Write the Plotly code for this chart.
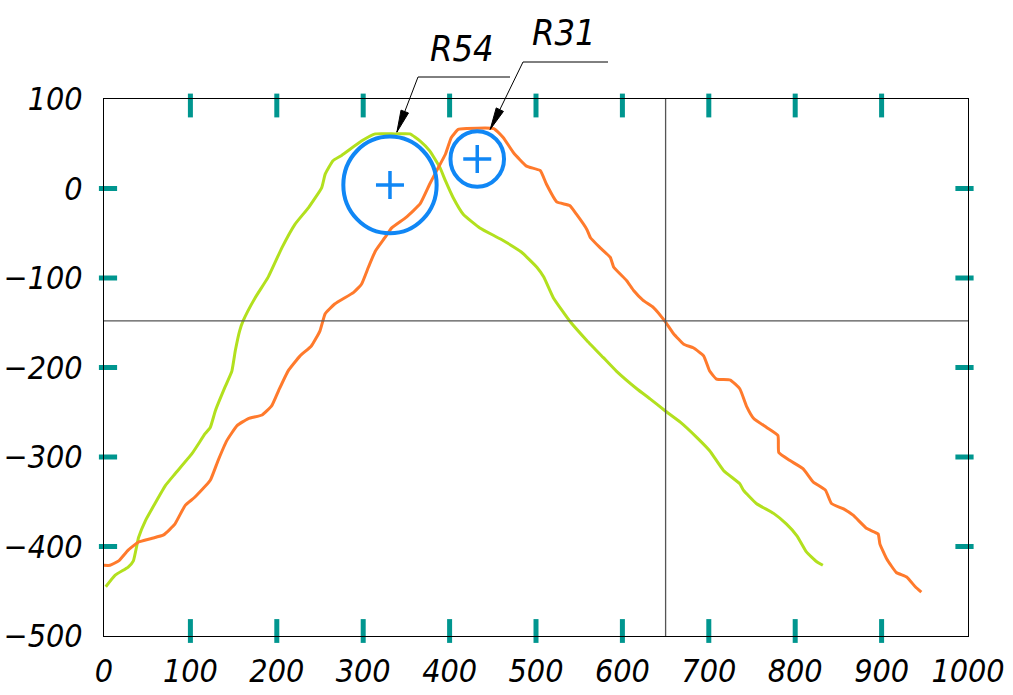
import math
import plotly.graph_objects as go

# Profile traces (x, y)
green_x = [2, 13, 28, 34, 40, 48, 59, 71, 82, 102, 117, 123, 129, 140, 148,
           152, 157, 161, 175, 190, 206, 221, 237, 252, 256, 265, 275, 298, 314, 337,
           354, 366, 377, 389, 395, 404, 416, 435, 460, 483, 501, 509, 520, 539, 559,
           578, 593, 617, 632, 649, 667, 686, 701, 717, 736, 740, 755, 775, 790, 802,
           813, 825, 832]
green_y = [-445, -432, -423, -416, -390, -371, -352, -332, -319, -296, -274, -267, -248, -222, -204,
           -181, -159, -148, -122, -99, -66, -40, -21, 1, 16, 31, 37, 53, 61, 61,
           61, 53, 42, 23, 9, -10, -29, -44, -57, -71, -88, -99, -122, -148, -170,
           -189, -204, -224, -235, -248, -261, -278, -293, -315, -330, -337, -352, -363, -375, -388,
           -406, -417, -421]

orange_x = [0, 7, 17, 28, 40, 55, 69, 82, 94, 105, 123, 132, 142, 154, 167,
            183, 194, 202, 213, 227, 240, 250, 256, 267, 289, 298, 306, 314, 325, 333,
            350, 366, 377, 385, 395, 402, 410, 420, 451, 462, 474, 489, 505, 512, 524,
            539, 547, 559, 563, 574, 586, 590, 605, 613, 624, 636, 649, 659, 671, 682,
            694, 701, 709, 725, 736, 744, 752, 767, 780, 781, 794, 809, 821, 835, 842,
            856, 867, 883, 896, 898, 906, 917, 929, 939, 946]
orange_y = [-421, -421, -416, -404, -395, -391, -387, -375, -354, -345, -326, -304, -282, -265, -257,
            -253, -243, -226, -204, -187, -176, -159, -140, -129, -116, -107, -88, -70, -55, -44,
            -32, -17, 5, 20, 38, 57, 66, 67, 67, 57, 40, 25, 20, 5, -15,
            -19, -29, -46, -55, -66, -77, -88, -103, -114, -125, -133, -148, -162, -174, -178,
            -187, -204, -213, -214, -224, -244, -257, -267, -276, -295, -304, -313, -328, -337, -352,
            -358, -365, -380, -386, -397, -414, -429, -434, -445, -451]

# Fitted arcs: centre x, centre y, radius
arc_labels = ["R54", "R31"]
arc_cx = [331, 432]
arc_cy = [4, 33]
arc_r = [54, 31]

# Axis ticks
x_ticks = [0, 100, 200, 300, 400, 500, 600, 700, 800, 900, 1000]
y_ticks = [100, 0, -100, -200, -300, -400, -500]
x_marks = [100, 200, 300, 400, 500, 600, 700, 800, 900]
y_marks = [0, -100, -200, -300, -400]

# Reference cross lines
cross_x = 650
cross_y = -148

X_RANGE = [0, 1000]
Y_RANGE = [-500, 100]
W, H = 1013, 695
ML, MR, MT, MB = 104, 45, 99, 59
pw = W - ML - MR
ph = H - MT - MB
ppx = pw / (X_RANGE[1] - X_RANGE[0])
ppy = ph / (Y_RANGE[1] - Y_RANGE[0])

GREEN = "#b2e01e"
ORANGE = "#ff7a2c"
BLUE = "#1087f5"
TEAL = "#00968f"
FONT = "Noto Sans ExtraCondensed, Noto Sans Condensed, DejaVu Sans Condensed, DejaVu Sans"


def data_to_px(x, y):
    return ML + (x - X_RANGE[0]) * ppx, MT + (Y_RANGE[1] - y) * ppy


def px_to_paper(px, py):
    return (px - ML) / pw, (H - MB - py) / ph


fig = go.Figure()

fig.add_trace(go.Scatter(x=green_x, y=green_y, mode="lines",
                         line=dict(color=GREEN, width=3, shape="spline", smoothing=0.4),
                         hoverinfo="skip"))
fig.add_trace(go.Scatter(x=orange_x, y=orange_y, mode="lines",
                         line=dict(color=ORANGE, width=3, shape="spline", smoothing=0.4),
                         hoverinfo="skip"))

# arcs with centre crosses
for cx, cy, r in zip(arc_cx, arc_cy, arc_r):
    fig.add_shape(type="circle", xref="x", yref="y",
                  x0=cx - r, x1=cx + r, y0=cy - r, y1=cy + r,
                  line=dict(color=BLUE, width=4), layer="above")
fig.add_trace(go.Scatter(x=arc_cx, y=arc_cy, mode="markers",
                         marker=dict(symbol="cross-thin", size=20,
                                     line=dict(color=BLUE, width=3.5)),
                         hoverinfo="skip", cliponaxis=False))

# teal tick dashes along the frame
top_y = Y_RANGE[1] - 6.5 / ppy
bot_y = Y_RANGE[0] + 5 / ppy
left_x = X_RANGE[0] + 4 / ppx
right_x = X_RANGE[1] - 3.5 / ppx
fig.add_trace(go.Scatter(x=x_marks + x_marks,
                         y=[top_y] * len(x_marks) + [bot_y] * len(x_marks),
                         mode="markers", cliponaxis=False, hoverinfo="skip",
                         marker=dict(symbol="line-ns", size=17,
                                     line=dict(color=TEAL, width=5))))
fig.add_trace(go.Scatter(x=[left_x] * len(y_marks) + [right_x] * len(y_marks),
                         y=y_marks + y_marks,
                         mode="markers", cliponaxis=False, hoverinfo="skip",
                         marker=dict(symbol="line-ew", size=13,
                                     line=dict(color=TEAL, width=5))))

# cross lines
fig.add_shape(type="line", xref="x", yref="paper", x0=cross_x, x1=cross_x, y0=0, y1=1,
              line=dict(color="#555555", width=1.3))
fig.add_shape(type="line", xref="paper", yref="y", x0=0, x1=1, y0=cross_y, y1=cross_y,
              line=dict(color="#555555", width=1.3))

# leader lines with labels for the arcs
leader = [
    # arrow tip (data), shelf start/end and height (px), label centre (px)
    dict(tip=(339, 63), shelf=(418, 510, 77), text=(462, 49)),
    dict(tip=(447, 66), shelf=(523, 608, 62), text=(564, 32)),
]
HEAD_LEN, HEAD_HALF = 22, 4
for lab, ld in zip(arc_labels, leader):
    tx_px, ty_px = data_to_px(*ld["tip"])
    s0, s1, sy = ld["shelf"]
    # shelf + leader line
    pts = [px_to_paper(s1, sy), px_to_paper(s0, sy), px_to_paper(tx_px, ty_px)]
    path = "M {} {} L {} {} L {} {}".format(*[v for p in pts for v in p])
    fig.add_shape(type="path", xref="paper", yref="paper", path=path,
                  line=dict(color="black", width=1))
    # filled arrow head
    dx, dy = tx_px - s0, ty_px - sy
    L = math.hypot(dx, dy)
    ux, uy = dx / L, dy / L
    bx, by = tx_px - ux * HEAD_LEN, ty_px - uy * HEAD_LEN
    p1 = px_to_paper(bx - uy * HEAD_HALF, by + ux * HEAD_HALF)
    p2 = px_to_paper(bx + uy * HEAD_HALF, by - ux * HEAD_HALF)
    p0 = px_to_paper(tx_px, ty_px)
    head = "M {} {} L {} {} L {} {} Z".format(*p0, *p1, *p2)
    fig.add_shape(type="path", xref="paper", yref="paper", path=head,
                  fillcolor="black", line=dict(color="black", width=1))
    lx, ly = px_to_paper(*ld["text"])
    fig.add_annotation(x=lx, y=ly, xref="paper", yref="paper",
                       text=lab, showarrow=False, xanchor="center", yanchor="middle",
                       font=dict(family=FONT, size=36, style="italic", weight=300,
                                 color="black"))

tickfont = dict(family=FONT, size=32, style="italic", weight=300, color="black")
fig.update_layout(
    width=W, height=H,
    margin=dict(l=ML, r=MR, t=MT, b=MB, pad=0, autoexpand=False),
    paper_bgcolor="white", plot_bgcolor="white",
    showlegend=False,
    xaxis=dict(range=X_RANGE, tickvals=x_ticks, showgrid=False, zeroline=False,
               showline=True, mirror=True, linecolor="black", linewidth=1,
               ticks="", tickfont=tickfont, ticklabelstandoff=7, automargin=False),
    yaxis=dict(range=Y_RANGE, tickvals=y_ticks, showgrid=False, zeroline=False,
               showline=True, mirror=True, linecolor="black", linewidth=1,
               ticks="", tickfont=tickfont, ticklabelstandoff=14, automargin=False),
)

fig.write_html("out.html")
